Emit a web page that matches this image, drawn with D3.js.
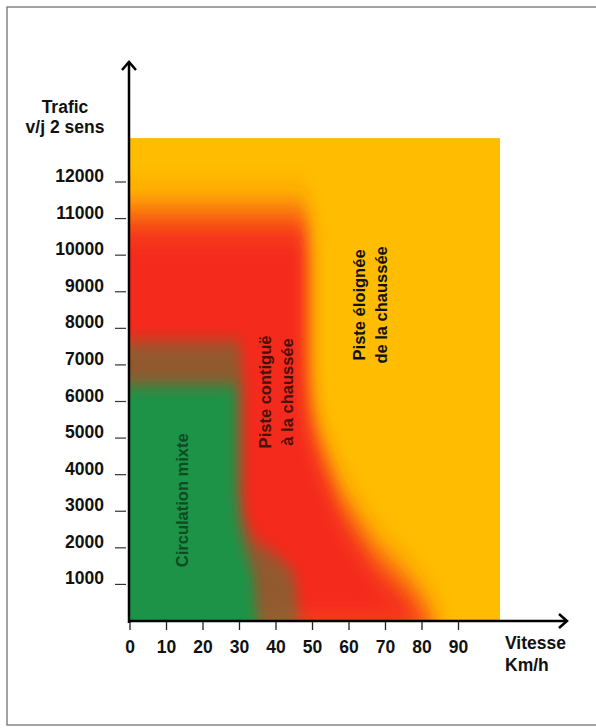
<!DOCTYPE html>
<html>
<head>
<meta charset="utf-8">
<script src="https://cdn.jsdelivr.net/npm/d3@7"></script>
<style>
  body { margin: 0; background: #fff; }
  text { font-family: "Liberation Sans", Arial, sans-serif; font-weight: bold; }
</style>
</head>
<body>
<div id="chart"></div>
<script>
const speedTicks = [0, 10, 20, 30, 40, 50, 60, 70, 80, 90];
const trafficTicks = [1000, 2000, 3000, 4000, 5000, 6000, 7000, 8000, 9000, 10000, 11000, 12000];

// zones (vitesse km/h, trafic v/j)
const redZone = [[-10, 11150], [48, 11150], [49, 10600], [49, 6500], [50, 5500], [52.5, 4700], [58, 3300], [67, 1900], [76, 1000], [83, 0], [85, -600], [-10, -600]];
const greenFaint = [[-10, 7650], [30, 7650], [31, 6450], [31, 3000], [34, 2200], [40, 1800], [45, 1300], [47, -600], [-10, -600]];
const greenZone = [[-10, 6450], [29, 6450], [29, 3500], [30, 2500], [32, 1800], [34, 1200], [35, -600], [-10, -600]];

const zoneLabels = [
  { lines: ["Piste contiguë", "à la chaussée"], speed: 40.1, traffic: 6260, color: "#4a1008" },
  { lines: ["Piste éloignée", "de la chaussée"], speed: 65.8, traffic: 8640, color: "#111" },
  { lines: ["Circulation mixte"], speed: 14.2, traffic: 3300, color: "#0f4a22" }
];

const width = 596;
const height = 728;

const svg = d3.select("div#chart").append("svg").attr("width", width).attr("height", height);

// cadre
svg.append("rect").attr("x", 7).attr("y", 7).attr("width", 600).attr("height", 718)
  .attr("fill", "none").attr("stroke", "#666").attr("stroke-width", 1.2);

const x = d3.scaleLinear().domain([0, 100]).range([130, 495]);
const y = d3.scaleLinear().domain([0, 12000]).range([621, 182]);

const xMax = 101.4, yMax = 13200;

const defs = svg.append("defs");
defs.append("clipPath").attr("id", "plotClip").append("rect")
  .attr("x", x(0)).attr("y", y(yMax)).attr("width", x(xMax) - x(0)).attr("height", y(0) - y(yMax));

const blurRed = defs.append("filter").attr("id", "blurRed").attr("filterUnits", "userSpaceOnUse")
  .attr("x", 0).attr("y", 0).attr("width", width).attr("height", height);
blurRed.append("feGaussianBlur").attr("stdDeviation", "8 20");
const blurGreen = defs.append("filter").attr("id", "blurGreen").attr("filterUnits", "userSpaceOnUse")
  .attr("x", 0).attr("y", 0).attr("width", width).attr("height", height);
blurGreen.append("feGaussianBlur").attr("stdDeviation", "6 8");

const plot = svg.append("g").attr("clip-path", "url(#plotClip)");
const line = d3.line().x(d => x(d[0])).y(d => y(d[1])).curve(d3.curveLinearClosed);

plot.append("rect")
  .attr("x", x(0)).attr("y", y(yMax)).attr("width", x(xMax) - x(0)).attr("height", y(0) - y(yMax))
  .attr("fill", "#ffbc00");
plot.append("path").datum(redZone).attr("d", line).attr("fill", "#f42a1a").attr("filter", "url(#blurRed)");
plot.append("path").datum(greenFaint).attr("d", line).attr("fill", "#1b9346").attr("opacity", 0.45).attr("filter", "url(#blurGreen)");
plot.append("path").datum(greenZone).attr("d", line).attr("fill", "#1b9346").attr("filter", "url(#blurGreen)");

// textes des zones
zoneLabels.forEach(l => {
  const g = svg.append("g").attr("transform", `translate(${x(l.speed)},${y(l.traffic)}) rotate(-90)`);
  l.lines.forEach((t, i) => {
    g.append("text").attr("x", 0).attr("y", (i - (l.lines.length - 1) / 2) * 22 + 6)
      .attr("text-anchor", "middle").attr("font-size", 16.5).attr("fill", l.color).text(t);
  });
});

// axes
const axes = svg.append("g").attr("stroke", "#000").attr("fill", "none");
axes.append("line").attr("x1", x(0) - 1).attr("x2", x(0) - 1).attr("y1", y(0) + 2).attr("y2", 62).attr("stroke-width", 2.5);
axes.append("path").attr("d", `M${x(0) - 8},${70} L${x(0) - 1},${62} L${x(0) + 6},${70}`).attr("stroke-width", 2.5);
axes.append("line").attr("x1", x(0) - 2).attr("x2", 567).attr("y1", y(0)).attr("y2", y(0)).attr("stroke-width", 2.5);
axes.append("path").attr("d", `M${559},${y(0) - 7} L${567},${y(0)} L${559},${y(0) + 7}`).attr("stroke-width", 2.5);

// graduations
svg.append("g").selectAll("line").data(trafficTicks).enter().append("line")
  .attr("x1", 115).attr("x2", 126).attr("y1", d => y(d)).attr("y2", d => y(d))
  .attr("stroke", "#333").attr("stroke-width", 1.2);
svg.append("g").selectAll("text").data(trafficTicks).enter().append("text")
  .attr("x", 104).attr("y", d => y(d)).attr("text-anchor", "end").attr("font-size", 17.5).attr("fill", "#111")
  .text(d => d);

svg.append("g").selectAll("line").data(speedTicks).enter().append("line")
  .attr("x1", d => x(d)).attr("x2", d => x(d)).attr("y1", y(0) + 1).attr("y2", y(0) + 9)
  .attr("stroke", "#222").attr("stroke-width", 1.3);
svg.append("g").selectAll("text").data(speedTicks).enter().append("text")
  .attr("x", d => x(d)).attr("y", 653).attr("text-anchor", "middle").attr("font-size", 17.5).attr("fill", "#111")
  .text(d => d);

// titres des axes
svg.append("text").attr("x", 65).attr("y", 113).attr("text-anchor", "middle").attr("font-size", 17.5).attr("fill", "#111").text("Trafic");
svg.append("text").attr("x", 65).attr("y", 133).attr("text-anchor", "middle").attr("font-size", 17.5).attr("fill", "#111").text("v/j 2 sens");
svg.append("text").attr("x", 505).attr("y", 649).attr("font-size", 17.5).attr("fill", "#111").text("Vitesse");
svg.append("text").attr("x", 505).attr("y", 671).attr("font-size", 17.5).attr("fill", "#111").text("Km/h");
</script>
</body>
</html>
